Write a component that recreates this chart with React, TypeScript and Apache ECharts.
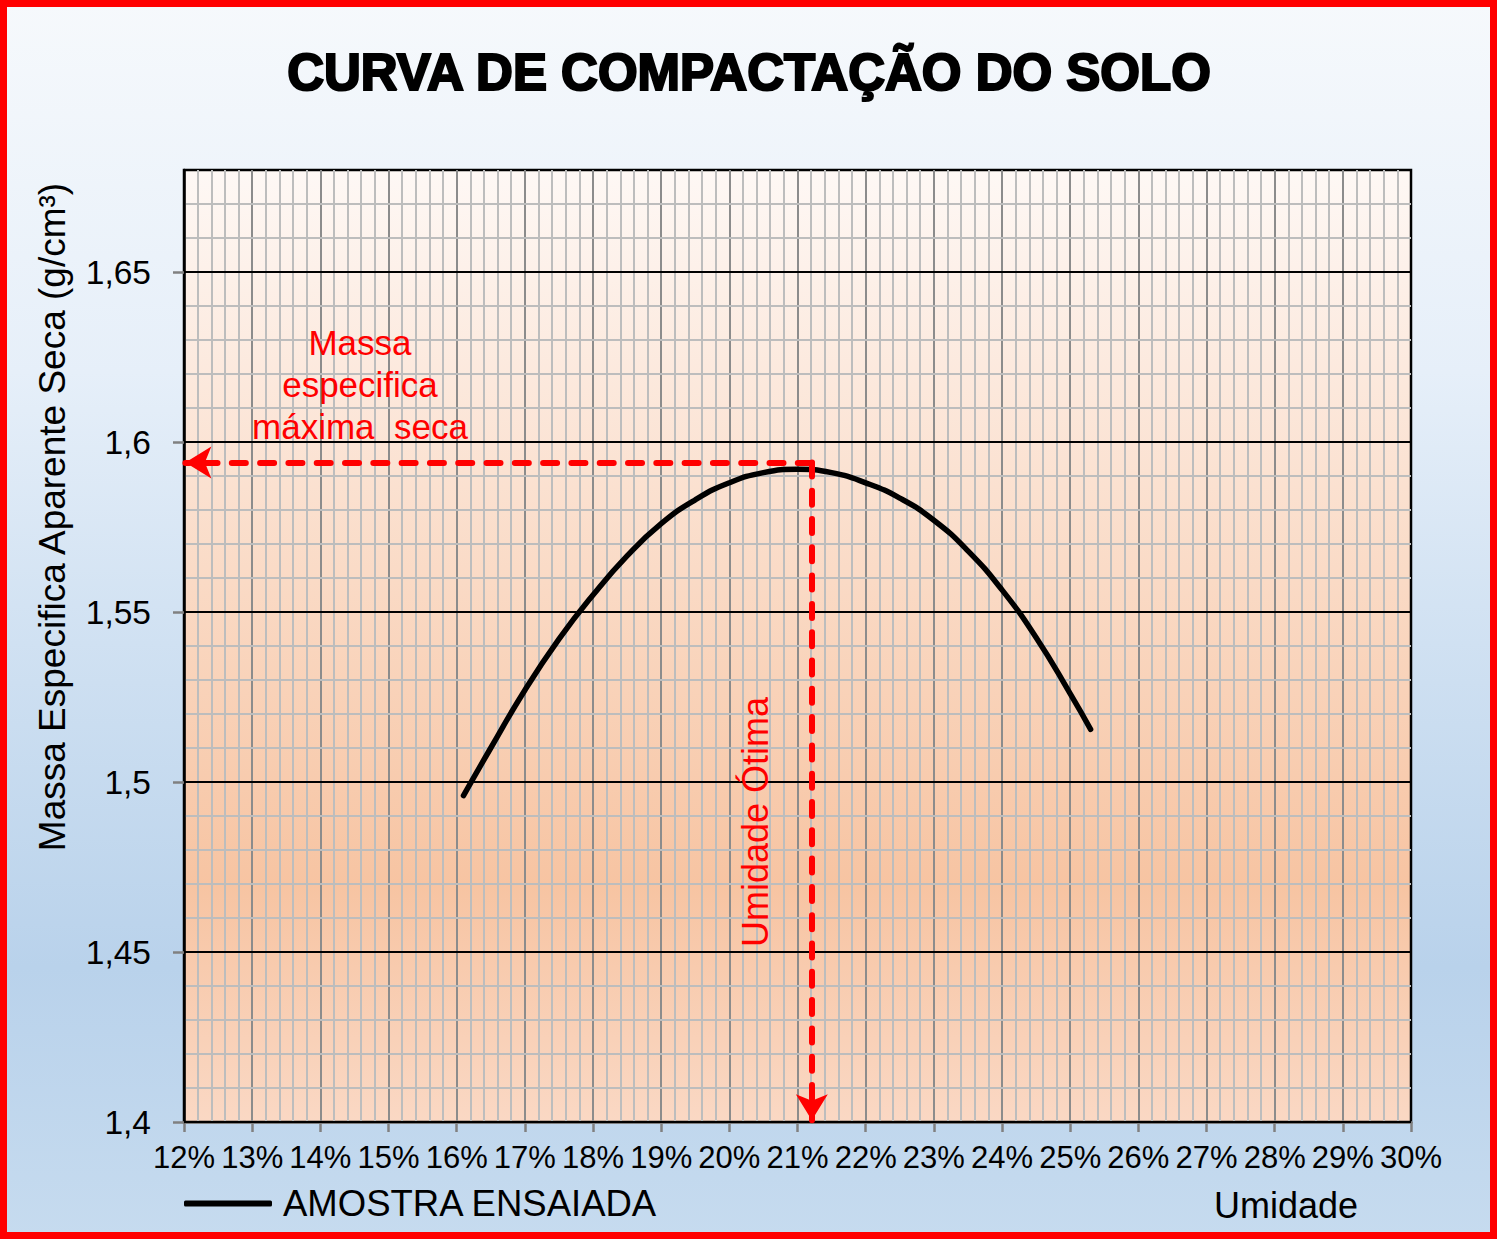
import React, { useEffect, useRef } from "react";
import * as echarts from "echarts";

// Curve data (umidade %, massa específica g/cm³)
const umidade = [16.1, 16.5, 17, 17.5, 18, 18.5, 19, 19.5, 20, 20.5, 21, 21.5, 22, 22.5, 23, 23.5, 24, 24.5, 25, 25.3];
const massaEspecifica = [
  1.496, 1.51, 1.527, 1.542, 1.555, 1.5665, 1.576, 1.583, 1.588, 1.591, 1.592, 1.591, 1.588, 1.5835, 1.577, 1.568,
  1.5565, 1.5425, 1.526, 1.5155,
];

// Annotation values
const umidadeOtima = 21.21;
const massaMaxima = 1.594;

// Axis tick values
const yMajorTicks = [1.4, 1.45, 1.5, 1.55, 1.6, 1.65];
const xRange = [12, 30];
const yRange = [1.4, 1.68];

const FONT = "Liberation Sans";

export default function App() {
  const ref = useRef<HTMLDivElement>(null);

  useEffect(() => {
    if (!ref.current) return;
    const chart = echarts.init(ref.current, undefined, { renderer: "svg" });

    const fmtY = (v: number) => String(Math.round(v * 100) / 100).replace(".", ",");

    const option: any = {
      animation: false,
      textStyle: { fontFamily: FONT },
      grid: {
        left: 184,
        right: 86,
        top: 170,
        bottom: 117,
        show: true,
        backgroundColor: new echarts.graphic.LinearGradient(0, 0, 0, 1, [
          { offset: 0, color: "#fef8f5" },
          { offset: 0.75, color: "#f7c4a2" },
          { offset: 1, color: "#fad8c4" },
        ]),
        borderColor: "#000",
        borderWidth: 2.5,
      },
      legend: {
        data: ["AMOSTRA ENSAIADA"],
        left: 179,
        top: 1180,
        icon: "roundRect",
        itemWidth: 88,
        itemHeight: 6,
        itemStyle: { color: "#000" },
        textStyle: { fontSize: 36.5, color: "#000", fontFamily: FONT, padding: [0, 0, 0, 6] },
      },
      xAxis: [
        {
          type: "value",
          min: xRange[0],
          max: xRange[1],
          interval: 1,
          axisLine: { show: true, lineStyle: { color: "#808080", width: 3 } },
          axisTick: { show: true, length: 10, lineStyle: { color: "#808080", width: 2.5 } },
          axisLabel: {
            formatter: (v: number) => `${v}%`,
            fontSize: 31,
            color: "#000",
            fontFamily: FONT,
            margin: 20,
          },
          splitLine: {
            show: true,
            showMinLine: false,
            showMaxLine: false,
            lineStyle: { color: "#8c8c8c", width: 2 },
          },
          minorTick: { show: false, splitNumber: 5 },
          minorSplitLine: { show: true, lineStyle: { color: "#bdbdbd", width: 2 } },
        },
      ],
      yAxis: [
        {
          type: "value",
          min: yRange[0],
          max: yRange[1],
          interval: 0.01,
          z: 1,
          axisLine: { show: false },
          axisTick: { show: false },
          axisLabel: { show: false },
          splitLine: {
            show: true,
            showMinLine: true,
            showMaxLine: false,
            lineStyle: { color: ["#000", "#bdbdbd", "#bdbdbd", "#bdbdbd", "#bdbdbd"], width: 2 },
          },
        },
        {
          type: "value",
          min: yRange[0],
          max: yRange[1],
          interval: 0.05,
          position: "left",
          z: 2,
          axisLine: { show: true, onZero: false, lineStyle: { color: "#000", width: 2.5 } },
          axisTick: {
            show: true,
            length: 11,
            customValues: yMajorTicks,
            lineStyle: { color: "#808080", width: 2.5 },
          },
          axisLabel: {
            customValues: yMajorTicks,
            formatter: (v: number) => (yMajorTicks.some((t) => Math.abs(t - v) < 1e-6) ? fmtY(v) : ""),
            fontSize: 33.5,
            color: "#000",
            fontFamily: FONT,
            margin: 33,
          },
          splitLine: { show: false },
        },
      ],
      series: [
        {
          name: "AMOSTRA ENSAIADA",
          type: "line",
          xAxisIndex: 0,
          yAxisIndex: 0,
          data: umidade.map((x, i) => [x, massaEspecifica[i]]),
          smooth: 0.5,
          symbol: "none",
          lineStyle: { color: "#000", width: 5.5, cap: "round" },
          itemStyle: { color: "#000" },
          z: 3,
          markLine: {
            silent: true,
            symbol: ["none", "arrow"],
            symbolSize: [24, 26],
            label: { show: false },
            emphasis: { disabled: true },
            lineStyle: { color: "#ff0000", width: 6, type: [14, 14.3], cap: "round" },
            data: [
              [{ coord: [umidadeOtima, massaMaxima] }, { coord: [12.02, massaMaxima] }],
              [{ coord: [umidadeOtima, massaMaxima] }, { coord: [umidadeOtima, 1.4005] }],
            ],
          },
        },
      ],
      graphic: [
        {
          type: "text",
          x: 749,
          y: 72,
          style: {
            text: "CURVA DE COMPACTAÇÃO DO SOLO",
            fontSize: 51,
            fontWeight: "bold",
            fontFamily: FONT,
            fill: "#000",
            stroke: "#000",
            lineWidth: 2.2,
            align: "center",
            verticalAlign: "middle",
          },
          z: 10,
        },
        {
          type: "text",
          x: 52,
          y: 517,
          rotation: Math.PI / 2,
          style: {
            text: "Massa Especifica Aparente Seca (g/cm³)",
            fontSize: 37,
            fontFamily: FONT,
            fill: "#000",
            align: "center",
            verticalAlign: "middle",
          },
          z: 10,
        },
        {
          type: "text",
          x: 1286,
          y: 1205,
          style: {
            text: "Umidade",
            fontSize: 36,
            fontFamily: FONT,
            fill: "#000",
            align: "center",
            verticalAlign: "middle",
          },
          z: 10,
        },
        {
          type: "text",
          x: 360,
          y: 384,
          style: {
            text: "Massa\nespecifica\nmáxima  seca",
            fontSize: 35,
            lineHeight: 42,
            fontFamily: FONT,
            fill: "#ff0000",
            align: "center",
            verticalAlign: "middle",
          },
          z: 10,
        },
        {
          type: "text",
          x: 755,
          y: 822,
          rotation: Math.PI / 2,
          style: {
            text: "Umidade Ótima",
            fontSize: 36,
            fontFamily: FONT,
            fill: "#ff0000",
            align: "center",
            verticalAlign: "middle",
          },
          z: 10,
        },
        {
          type: "rect",
          silent: true,
          shape: { x: 3.5, y: 3.5, width: 1490, height: 1232 },
          style: { fill: "none", stroke: "#ff0000", lineWidth: 7 },
          z: 100,
        },
      ],
    };

    chart.setOption(option);
    return () => chart.dispose();
  }, []);

  return (
    <div
      ref={ref}
      style={{
        position: "absolute",
        left: 0,
        top: 0,
        width: 1497,
        height: 1239,
        background:
          "linear-gradient(to bottom, #f6f9fc 0%, #e6eff9 30%, #cddff1 55%, #b9d2eb 78%, #c6dbef 100%)",
      }}
    />
  );
}
